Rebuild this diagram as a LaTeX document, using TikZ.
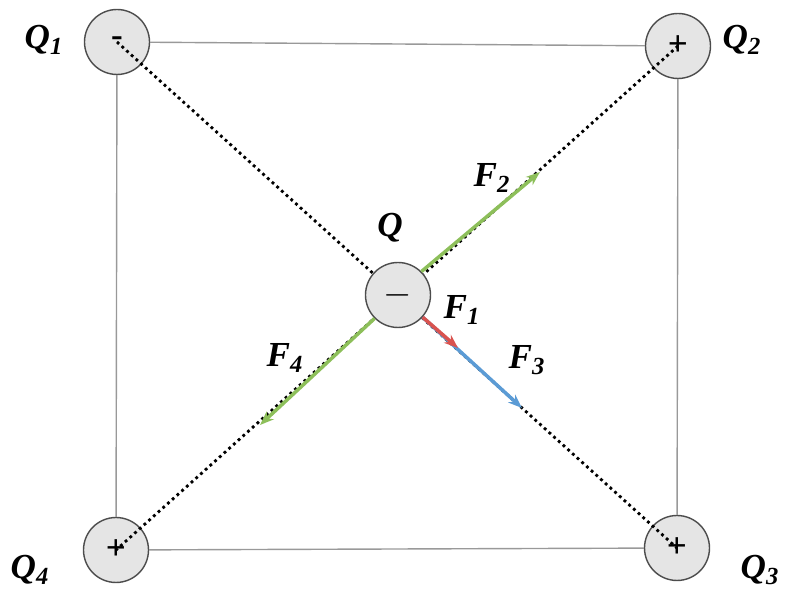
\documentclass[tikz,border=0pt]{standalone}
\usepackage{fontspec}
\setmainfont{Liberation Serif}
\usetikzlibrary{arrows.meta}
\definecolor{fgreen}{HTML}{8DBF5A}
\definecolor{fblue}{HTML}{5B9BD5}
\definecolor{fred}{HTML}{D9534F}
\begin{document}
\begin{tikzpicture}[
    x=0.02cm, y=-0.02cm,
    charge/.style={circle, draw=gray!60!black, fill=gray!20, line width=0.8pt, minimum size=1.3cm, inner sep=0pt, font=\fontsize{20}{22}\selectfont\bfseries},
    side/.style={draw=gray!80, line width=0.8pt},
    field/.style={dotted, line width=1.6pt},
    force/.style={-{Stealth[length=8pt]}, line width=2pt},
    lbl/.style={font=\fontsize{20}{22}\selectfont\bfseries\itshape}
]
\useasboundingbox (0,0) rectangle (789,590);

\node[charge] (q1) at (117,42) {-};
\node[charge] (q2) at (678,46) {+};
\node[charge] (q3) at (677,548) {+};
\node[charge] (q4) at (116,550) {+};

% square
\draw[side] (q1) -- (q2);
\draw[side] (q2) -- (q3);
\draw[side] (q3) -- (q4);
\draw[side] (q4) -- (q1);

% diagonals
\draw[field] (q1.center) -- (q3.center);
\draw[field] (q2.center) -- (q4.center);

\node[charge] (q) at (398,295) {$-$};

\coordinate (f2) at (540,172);
\coordinate (f4) at (260,425);
\coordinate (f1) at (458,348);
\coordinate (f3) at (522,408);

\draw[force, fgreen] (q.45) -- (f2);
\draw[force, fgreen] (q.225) -- (f4);
\draw[force, fblue] (q.-42) -- (f3);
\draw[force, fred] (q.-42) -- (f1);

\node[lbl] (l1) at (44,40) {Q\textsubscript{1}};
\node[lbl] (l2) at (742,40) {Q\textsubscript{2}};
\node[lbl] (l3) at (760,570) {Q\textsubscript{3}};
\node[lbl] (l4) at (30,570) {Q\textsubscript{4}};
\node[lbl] (lq) at (390,228) {Q};
\node[lbl] (lf1) at (462,310) {F\textsubscript{1}};
\node[lbl] (lf2) at (492,178) {F\textsubscript{2}};
\node[lbl] (lf3) at (527,360) {F\textsubscript{3}};
\node[lbl] (lf4) at (285,358) {F\textsubscript{4}};
\end{tikzpicture}
\end{document}
